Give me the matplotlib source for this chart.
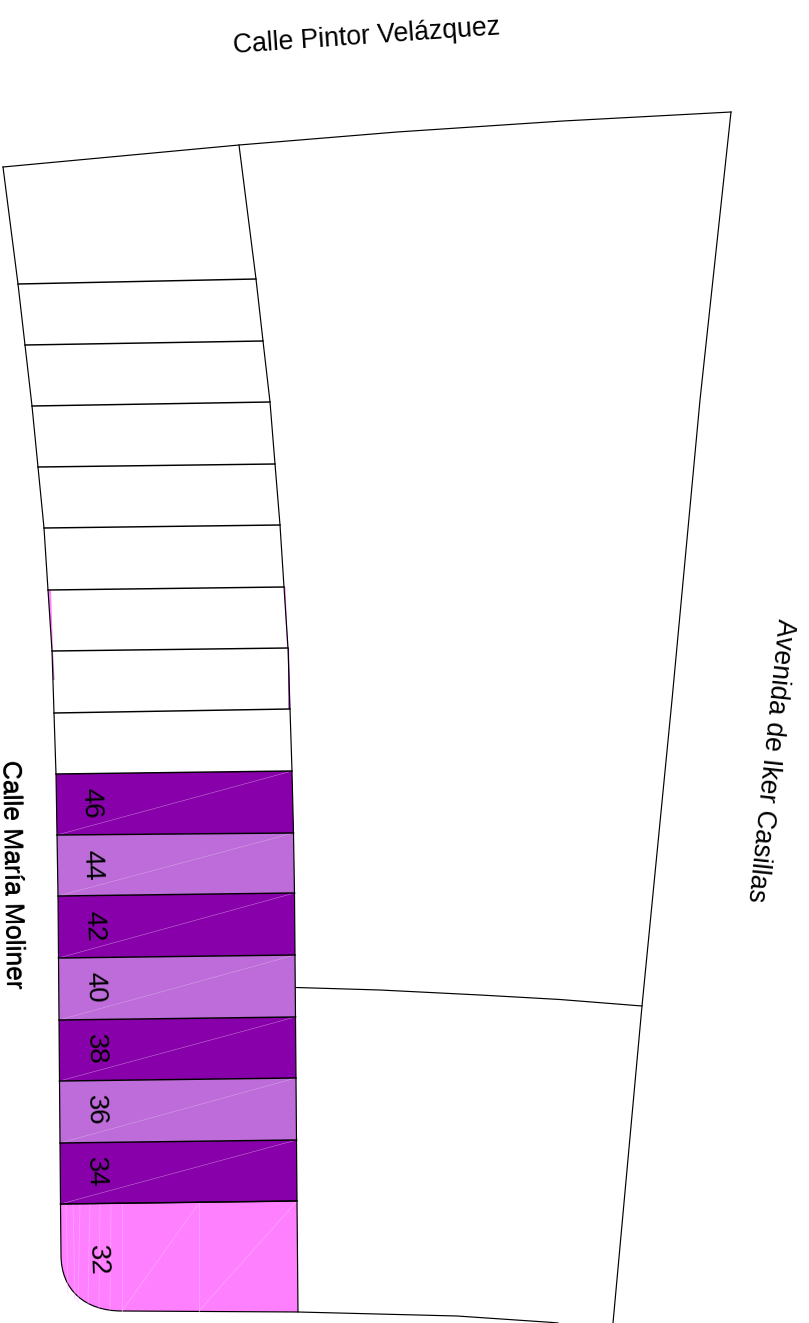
import matplotlib
matplotlib.use('Agg')
import matplotlib.pyplot as plt
from matplotlib.patches import Polygon
from matplotlib.path import Path
from matplotlib.patches import PathPatch

plt.rcParams['font.family'] = ['Liberation Sans', 'DejaVu Sans']

W, H = 809, 1323

# plot row edges, top to bottom (picture pixels)
left_edge = [(3, 167), (18, 284), (25, 345), (32, 406), (38, 467), (44, 528), (48, 590), (52, 651), (54, 713),
             (56, 774), (57, 835), (58, 896), (58.5, 958), (59, 1020), (59.5, 1081), (60, 1143), (60.5, 1204)]
right_edge = [(239, 145), (256, 279), (263, 341), (270, 402), (275, 464), (280, 525), (284, 587), (288, 648), (290, 709),
              (292, 771), (293.5, 833), (294.5, 893), (295, 955), (295.5, 1017), (296, 1078), (296.5, 1140), (297, 1201)]

# plots with a number, first one starts at row index 9
plot_numbers = ['46', '44', '42', '40', '38', '36', '34']
plot_colors = ['#8800aa', '#bd6cd9', '#8800aa', '#bd6cd9', '#8800aa', '#bd6cd9', '#8800aa']
number_pos = [(92, 803), (93, 865), (95, 926), (96, 987), (97, 1049), (97, 1110), (97, 1172)]

corner_color = '#ff80ff'
corner_number = '32'
corner_number_pos = (98, 1260)

outer_top = [(3, 167), (239, 145), (397, 132), (563, 121), (731, 112)]
outer_right = [(731, 112), (700, 400), (672, 700), (642, 1006), (613, 1323)]
inner_line = [(296, 987.5), (380, 990), (480, 995), (560, 999.5), (642, 1006)]
bottom_line = [(298, 1312), (457, 1316), (550, 1322.3), (558, 1323)]

corner_seams_v = [(66, 1204, 68, 1294), (73, 1204, 75, 1300), (80, 1204, 78, 1302), (90, 1204, 88, 1305), (100, 1204, 99, 1308),
                  (111, 1204, 110, 1310), (122, 1204, 122, 1311), (199, 1203, 199, 1311)]
corner_seams_d = [(122, 1311, 199, 1203), (199, 1311, 297, 1201)]

slivers = [([(48, 590), (51, 590), (53, 651), (52, 651)], '#ff80ff'),
           ([(284, 587), (285.5, 587), (288, 648), (287, 648)], '#ff80ff'),
           ([(52, 651), (53, 651), (54.5, 680), (53, 680)], '#bd6cd9'),
           ([(288, 648), (289, 648), (290, 709), (288.5, 709)], '#8800aa')]

fig = plt.figure(figsize=(W / 100, H / 100), dpi=100)
ax = fig.add_axes([0, 0, 1, 1])
ax.set_xlim(0, W)
ax.set_ylim(H, 0)
ax.axis('off')

LW = 0.85

# fills first
for pts, col in slivers:
    ax.add_patch(Polygon(pts, closed=True, fc=col, ec='none'))

for i, col in enumerate(plot_colors):
    a, b = left_edge[9 + i], right_edge[9 + i]
    c, d = right_edge[10 + i], left_edge[10 + i]
    ax.add_patch(Polygon([a, b, c, d], closed=True, fc=col, ec='none'))
    # thin seam of the triangulated fill
    ax.plot([d[0], b[0]], [d[1], b[1]], color='#e6c3f0', lw=0.4, alpha=0.6)

# corner plot with rounded end
corner_path = Path([(60.5, 1204), (297, 1201), (298, 1312), (122, 1311), (85, 1311), (61, 1290), (61, 1255), (60.5, 1204)],
                   [Path.MOVETO, Path.LINETO, Path.LINETO, Path.LINETO, Path.CURVE4, Path.CURVE4, Path.CURVE4, Path.LINETO])
ax.add_patch(PathPatch(corner_path, fc=corner_color, ec='black', lw=LW))
for x0, y0, x1, y1 in corner_seams_v + corner_seams_d:
    ax.plot([x0, x1], [y0, y1], color='#ffb3ff', lw=0.6, alpha=0.6)

# outlines
for pts in (left_edge, right_edge, outer_top, outer_right, inner_line, bottom_line):
    ax.plot([p[0] for p in pts], [p[1] for p in pts], color='black', lw=LW)
for a, b in zip(left_edge[1:], right_edge[1:]):
    ax.plot([a[0], b[0]], [a[1], b[1]], color='black', lw=LW + 0.2)

# labels
for txt, (x, y) in zip(plot_numbers, number_pos):
    ax.text(x - 1.5, y, txt, rotation=-88, ha='center', va='center', fontsize=20, color='black', rotation_mode='anchor')
ax.text(corner_number_pos[0] - 1, corner_number_pos[1], corner_number, rotation=-88, ha='center', va='center', fontsize=20, rotation_mode='anchor')

ax.text(367, 37, 'Calle Pintor Velázquez', rotation=4, ha='center', va='center', fontsize=19.2, rotation_mode='anchor')
ax.text(770, 760, 'Avenida de Iker Casillas', rotation=-96, ha='center', va='center', fontsize=19.2, rotation_mode='anchor')
# street name is drawn twice in the source, slightly offset
for dx in (0, 1.4):
    ax.text(10.5 + dx, 874, 'Calle María Moliner', rotation=-89, ha='center', va='center', fontsize=19, rotation_mode='anchor')

fig.savefig('out.png', dpi=100, facecolor='white')
